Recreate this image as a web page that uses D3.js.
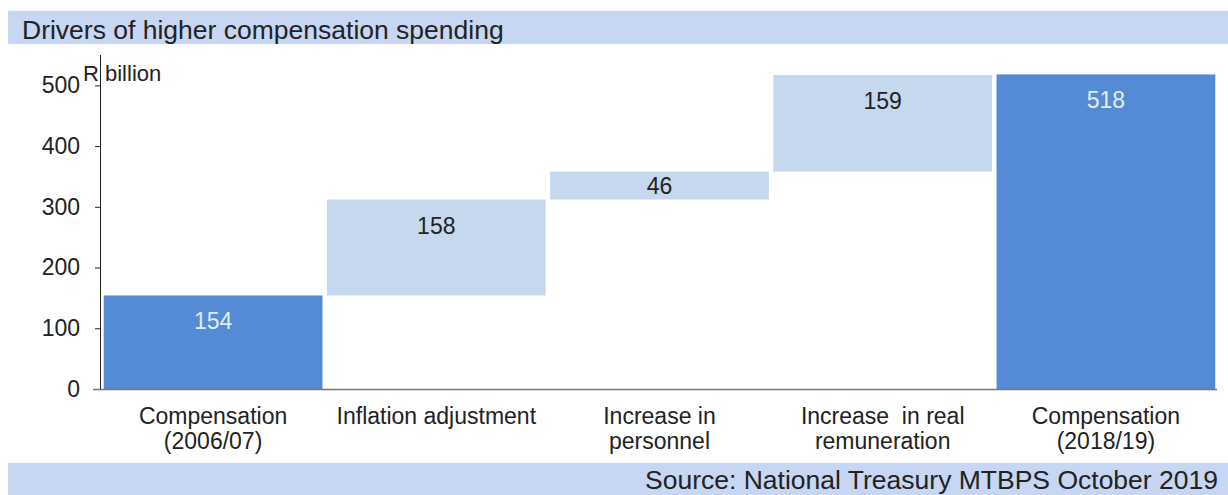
<!DOCTYPE html>
<html>
<head>
<meta charset="utf-8">
<script src="https://cdn.jsdelivr.net/npm/d3@7"></script>
<style>
    body { margin: 0; background: #fff; }
    text { font-family: "Liberation Sans", Arial, sans-serif; }
</style>
</head>
<body>
<div id="chart"></div>
<script>
// chart data
const categories = [
    ["Compensation", "(2006/07)"],
    ["Inflation adjustment"],
    ["Increase in", "personnel"],
    ["Increase  in real", "remuneration"],
    ["Compensation", "(2018/19)"]
];
const values = [154, 158, 46, 159, 518];
const isTotal = [true, false, false, false, true];
const yTicks = [0, 100, 200, 300, 400, 500];

const width = 1228, height = 495;

let svg = d3.select("#chart").append("svg")
    .attr("width", width)
    .attr("height", height);

// title band
svg.append("rect").attr("x", 8).attr("y", 11).attr("width", width - 8).attr("height", 33)
    .attr("fill", "#c7d6f2");
svg.append("text").attr("x", 22).attr("y", 39)
    .attr("font-size", 26.5).attr("fill", "#222")
    .text("Drivers of higher compensation spending");

// source band
svg.append("rect").attr("x", 8).attr("y", 463).attr("width", width - 8).attr("height", 32)
    .attr("fill", "#c7d6f2");
svg.append("text").attr("x", 1218).attr("y", 489)
    .attr("text-anchor", "end")
    .attr("font-size", 26.5).attr("fill", "#222")
    .text("Source: National Treasury MTBPS October 2019");

// running totals for the waterfall
let running = 0;
let bars = values.map((v, i) => {
    let b;
    if (isTotal[i]) {
        b = {y0: 0, y1: v};
        running = v;
    } else {
        b = {y0: running, y1: running + v};
        running += v;
    }
    return Object.assign(b, {value: v, total: isTotal[i], i: i});
});

let x = d3.scaleBand()
    .domain(d3.range(categories.length))
    .range([101.5, 1217.5])
    .paddingInner(0.02)
    .paddingOuter(0.01);

let y = d3.scaleLinear()
    .domain([0, 550])
    .range([389, 55]);

// bars
svg.selectAll("rect.bar")
    .data(bars)
    .enter()
    .append("rect")
    .attr("class", "bar")
    .attr("x", d => x(d.i))
    .attr("y", d => y(d.y1))
    .attr("width", x.bandwidth())
    .attr("height", d => y(d.y0) - y(d.y1))
    .attr("fill", d => d.total ? "#548bd4" : "#c6d8ee");

// value labels
svg.selectAll("text.val")
    .data(bars)
    .enter()
    .append("text")
    .attr("class", "val")
    .attr("x", d => x(d.i) + x.bandwidth() / 2)
    .attr("y", d => d.value < 60 ? (y(d.y1) + y(d.y0)) / 2 + 8 : y(d.y1) + 34)
    .attr("text-anchor", "middle")
    .attr("font-size", 23)
    .attr("fill", d => d.total ? "#e0ecfb" : "#222")
    .text(d => d.value);

// y axis
let yAxis = svg.append("g")
    .attr("transform", "translate(101,0)")
    .call(d3.axisLeft(y).tickValues(yTicks).tickSize(6).tickPadding(15));
yAxis.select(".domain").attr("stroke", "#222").attr("d", `M-0.5,${y(550)}V${y(0)}`);
yAxis.selectAll(".tick line").attr("stroke", "#222");
yAxis.selectAll(".tick text")
    .attr("font-size", 23)
    .attr("fill", "#222")
    .attr("font-family", "'Liberation Sans', Arial, sans-serif");

// unit label
svg.append("text").attr("x", 83).attr("y", 81)
    .attr("font-size", 22).attr("fill", "#222")
    .style("white-space", "pre")
    .text("R billion");

// x axis line
svg.append("line")
    .attr("x1", 93).attr("x2", 1217)
    .attr("y1", y(0) + 0.5).attr("y2", y(0) + 0.5)
    .attr("stroke", "#777").attr("stroke-width", 1.5);

// category labels
let catG = svg.selectAll("g.cat")
    .data(categories)
    .enter()
    .append("text")
    .attr("class", "cat")
    .attr("text-anchor", "middle")
    .attr("font-size", 23)
    .attr("fill", "#222")
    .style("white-space", "pre");

catG.selectAll("tspan")
    .data((d, i) => d.map(line => ({line: line, i: i})))
    .enter()
    .append("tspan")
    .attr("x", d => x(d.i) + x.bandwidth() / 2)
    .attr("y", (d, j) => 424 + j * 25)
    .text(d => d.line);
</script>
</body>
</html>
